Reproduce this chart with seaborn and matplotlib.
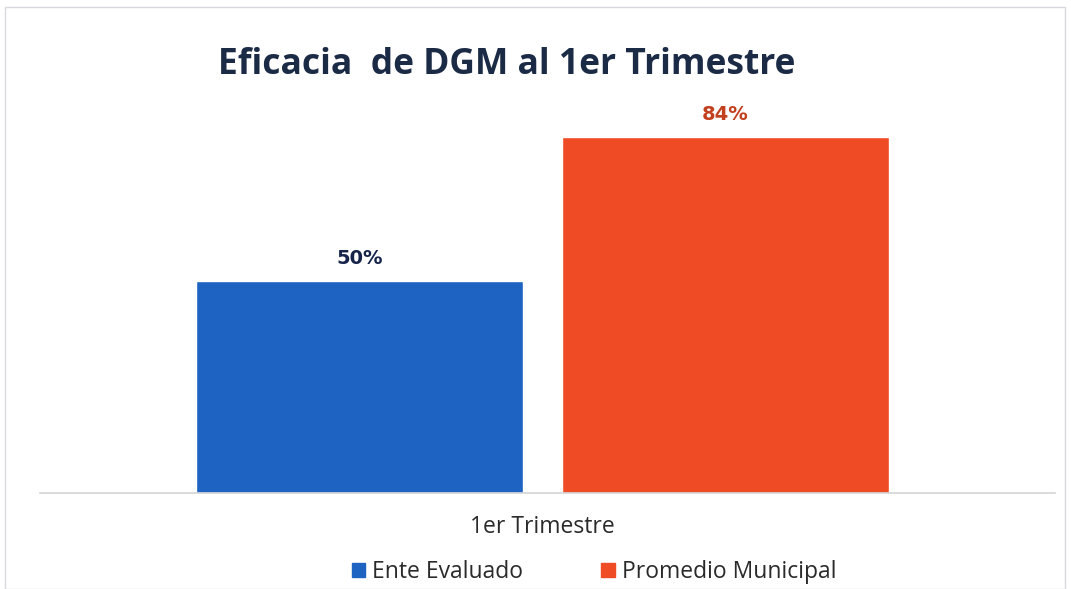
import matplotlib
matplotlib.use("Agg")
import matplotlib.pyplot as plt
import seaborn as sns
import pandas as pd
from matplotlib.patches import Rectangle

# data
categories = ["1er Trimestre"]
series = ["Ente Evaluado", "Promedio Municipal"]
values = [50, 84]
colors = ["#1f63c2", "#ef4b24"]
label_colors = ["#16244a", "#c2401e"]

df = pd.DataFrame({"periodo": categories * len(series), "serie": series, "valor": values})

sns.set_style("white")
plt.rcParams["font.family"] = ["Open Sans", "DejaVu Sans"]

fig = plt.figure(figsize=(10.71, 5.89), dpi=100)
ax = fig.add_axes([40 / 1071, 96 / 589, 1015 / 1071, 424 / 589])

sns.barplot(data=df, x="periodo", y="valor", hue="serie", palette=colors,
            gap=0.107, width=0.8, ax=ax, legend=False, saturation=1)

ax.set_ylim(0, 100)
ax.set_xlim(-0.549, 0.560)
for s in ["top", "left", "right"]:
    ax.spines[s].set_visible(False)
ax.spines["bottom"].set_color("#d4d4d8")
ax.spines["bottom"].set_linewidth(1.2)
ax.set_yticks([])
ax.set_xlabel("")
ax.set_ylabel("")
ax.tick_params(axis="x", length=0, pad=16, labelsize=16.5, labelcolor="#2a2a2a")

for bar, v, c in zip(ax.patches, values, label_colors):
    ax.annotate(f"{v}%", (bar.get_x() + bar.get_width() / 2, v),
                xytext=(0, 9), textcoords="offset points", ha="center", va="bottom",
                fontsize=14, fontweight="bold", color=c, family="DejaVu Sans")

fig.text(507 / 1071, 1 - 65 / 589, "Eficacia  de DGM al 1er Trimestre", ha="center", va="center",
         fontsize=25.5, fontweight="bold", color="#1b2a45")

handles = [Rectangle((0, 0), 1, 1, color=c) for c in colors]
fig.legend(handles, series, loc="center", bbox_to_anchor=(594 / 1071, 1 - 572 / 589), ncol=2,
           frameon=False, fontsize=16.5, handlelength=0.6, handleheight=0.6, handletextpad=0.3,
           columnspacing=3.4, labelcolor="#2a2a2a")

fig.patches.append(Rectangle((5 / 1071, 0), 1060 / 1071, 1 - 7 / 589, transform=fig.transFigure,
                             fill=False, edgecolor="#d8d8e0", linewidth=1))

fig.savefig("out.png", dpi=100)
